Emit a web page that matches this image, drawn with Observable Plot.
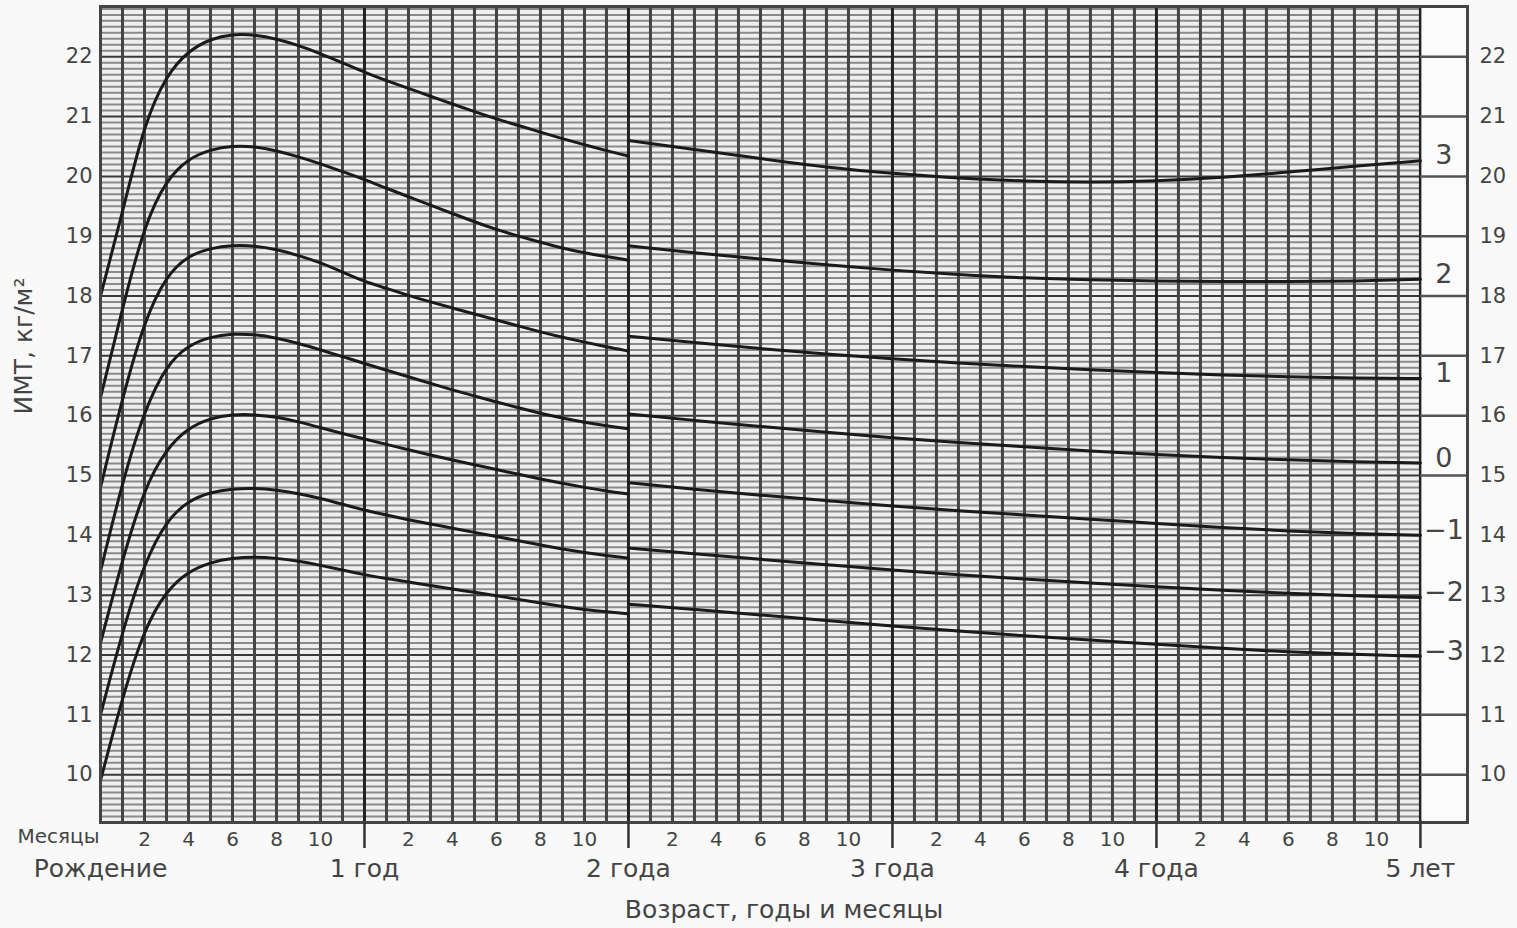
<!DOCTYPE html>
<html><head><meta charset="utf-8">
<script src="https://cdn.jsdelivr.net/npm/d3@7"></script>
<script src="https://cdn.jsdelivr.net/npm/@observablehq/plot@0.6"></script>
<style>body{margin:0;background:#f9f9f9;font-family:"DejaVu Sans",sans-serif}</style>
</head><body><div id="chart"></div><script>
// Age in months, 0–2 years (recumbent length) and 2–5 years (height)
const monthsA = [0,1,2,3,4,5,6,7,8,9,10,11,12,13,14,15,16,17,18,19,20,21,22,23,24];
const monthsB = [24,27,30,33,36,39,42,45,48,51,54,57,60];

// BMI, kg/m², by z-score line, 0–2 years
const p3A = [18.0,19.4,20.9,21.7,22.1,22.3,22.38,22.37,22.3,22.19,22.05,21.9,21.74,21.6,21.47,21.34,21.21,21.08,20.96,20.85,20.74,20.63,20.53,20.43,20.34];
const p2A = [16.3,17.8,19.2,19.95,20.3,20.45,20.51,20.5,20.43,20.33,20.21,20.08,19.95,19.8,19.66,19.52,19.38,19.24,19.11,19.0,18.9,18.8,18.72,18.66,18.6];
const p1A = [14.8,16.3,17.6,18.35,18.68,18.8,18.85,18.84,18.78,18.68,18.56,18.4,18.24,18.13,18.01,17.9,17.8,17.7,17.6,17.5,17.4,17.31,17.23,17.15,17.08];
const p0A = [13.4,14.9,16.1,16.85,17.18,17.32,17.37,17.36,17.3,17.21,17.1,16.99,16.87,16.76,16.65,16.54,16.43,16.33,16.23,16.13,16.04,15.96,15.89,15.83,15.78];
const m1A = [12.2,13.6,14.8,15.45,15.8,15.96,16.02,16.02,15.98,15.9,15.8,15.7,15.61,15.52,15.43,15.34,15.26,15.18,15.1,15.02,14.94,14.87,14.8,14.74,14.69];
const m2A = [11.0,12.4,13.55,14.25,14.58,14.72,14.78,14.79,14.76,14.7,14.62,14.52,14.42,14.34,14.26,14.19,14.12,14.05,13.98,13.91,13.84,13.77,13.71,13.66,13.62];
const m3A = [9.9,11.3,12.45,13.08,13.4,13.55,13.62,13.64,13.62,13.57,13.5,13.42,13.34,13.28,13.22,13.16,13.1,13.05,12.99,12.93,12.87,12.81,12.76,12.72,12.69];

// BMI, kg/m², by z-score line, 2–5 years
const p3B = [20.6,20.45,20.3,20.15,20.05,19.97,19.92,19.9,19.92,19.98,20.07,20.17,20.26];
const p2B = [18.84,18.72,18.62,18.52,18.43,18.36,18.3,18.27,18.25,18.24,18.24,18.25,18.28];
const p1B = [17.33,17.22,17.12,17.03,16.95,16.88,16.82,16.77,16.72,16.68,16.65,16.63,16.62];
const p0B = [16.03,15.92,15.82,15.72,15.63,15.55,15.48,15.41,15.35,15.3,15.26,15.23,15.21];
const m1B = [14.88,14.77,14.67,14.58,14.49,14.41,14.34,14.27,14.2,14.13,14.07,14.03,14.0];
const m2B = [13.79,13.69,13.6,13.51,13.42,13.34,13.27,13.2,13.14,13.08,13.03,12.99,12.96];
const m3B = [12.85,12.76,12.67,12.58,12.48,12.4,12.32,12.25,12.18,12.11,12.05,12.01,11.98];

const zNames = ["3","2","1","0","−1","−2","−3"];
const seriesA = [p3A,p2A,p1A,p0A,m1A,m2A,m3A];
const seriesB = [p3B,p2B,p1B,p0B,m1B,m2B,m3B];

// Tick labels
const yTicks = [10,11,12,13,14,15,16,17,18,19,20,21,22];
const monthTicks = [2,4,6,8,10,14,16,18,20,22,26,28,30,32,34,38,40,42,44,46,50,52,54,56,58];
const yearTickMonths = [12,24,36,48,60];
const yearLabelMonths = [0,12,24,36,48,60];
const yearLabels = ["Рождение","1 год","2 года","3 года","4 года","5 лет"];
const boxLines = [10,11,15,16,17,18,19,20,21,22];

const rows = [];
zNames.forEach((z,i)=>{
  monthsA.forEach((m,j)=>rows.push({month:m,bmi:seriesA[i][j],key:z+"A"}));
  monthsB.forEach((m,j)=>rows.push({month:m,bmi:seriesB[i][j],key:z+"B"}));
});
const zLabelRows = zNames.map((z,i)=>({z, bmi: seriesB[i][seriesB[i].length-1]}));

const X0 = 0, X1 = 60, XB = 62.14, Y0 = 9.2, Y1 = 22.84;
const hMinor = d3.range(93,229).filter(d=>d%10!==0).map(d=>d/10);
const hMajor = d3.range(10,23);
const vMinor = d3.range(1,60).filter(d=>d%12!==0);
const vMajor = [12,24,36,48,60];
const txt = "#444";
const font = "'DejaVu Sans', sans-serif";

const chart = Plot.plot({
  width:1517, height:928,
  marginLeft:100, marginRight:50, marginTop:6, marginBottom:106,
  x:{domain:[X0,XB]}, y:{domain:[Y0,Y1]},
  style:{background:"transparent", fontFamily:font, color:txt},
  marks:[
    Plot.rect([0],{x1:X0,x2:X1,y1:Y0,y2:Y1,fill:"#efefef"}),
    Plot.ruleY(hMinor,{x1:X0,x2:X1,stroke:"#8a8a8a",strokeWidth:2}),
    Plot.ruleY(hMajor,{x1:X0,x2:X1,stroke:"#3a3a3a",strokeWidth:2}),
    Plot.ruleX(vMinor,{y1:Y0,y2:Y1,stroke:"#444",strokeWidth:3}),
    Plot.ruleX(vMajor,{y1:Y0,y2:Y1,stroke:"#222",strokeWidth:3}),
    Plot.rect([0],{x1:X1,x2:XB,y1:Y0,y2:Y1,fill:"#fbfbfb",inset:1.5}),
    Plot.ruleY(boxLines,{x1:X1,x2:XB,stroke:"#555",strokeWidth:2.5}),
    Plot.line(rows,{x:"month",y:"bmi",z:"key",curve:"basis",stroke:"#1a1a1a",strokeWidth:3}),
    Plot.text(zLabelRows,{x:()=>(X1+XB)/2,y:"bmi",text:"z",fontSize:27,fill:txt,dy:-5}),
    Plot.frame({stroke:"#444",strokeWidth:3}),
    Plot.axisY({anchor:"left",ticks:yTicks,tickSize:0,tickPadding:8,fontSize:21,label:null}),
    Plot.axisY({anchor:"right",ticks:yTicks,tickSize:0,tickPadding:12,fontSize:21,label:null}),
    Plot.axisX({ticks:monthTicks,tickFormat:d=>d%12,tickSize:0,tickPadding:9,fontSize:20,label:null}),
    Plot.axisX({ticks:yearTickMonths,tickFormat:()=>"",tickSize:26,stroke:"#333",strokeWidth:2.5,label:null}),
    Plot.text(["Месяцы"],{x:()=>X0,frameAnchor:"bottom",dy:20,dx:-1,textAnchor:"end",fontSize:20,fill:txt}),
    Plot.text(yearLabels,{x:(d,i)=>yearLabelMonths[i],text:d=>d,frameAnchor:"bottom",dy:54,fontSize:25,fill:txt}),
    Plot.text(["Возраст, годы и месяцы"],{frameAnchor:"bottom",dy:95,fontSize:25,fill:txt}),
    Plot.text(["ИМТ, кг/м²"],{frameAnchor:"left",dx:-77,rotate:-90,fontSize:25,fill:txt})
  ]
});
document.getElementById("chart").append(chart);
</script></body></html>
